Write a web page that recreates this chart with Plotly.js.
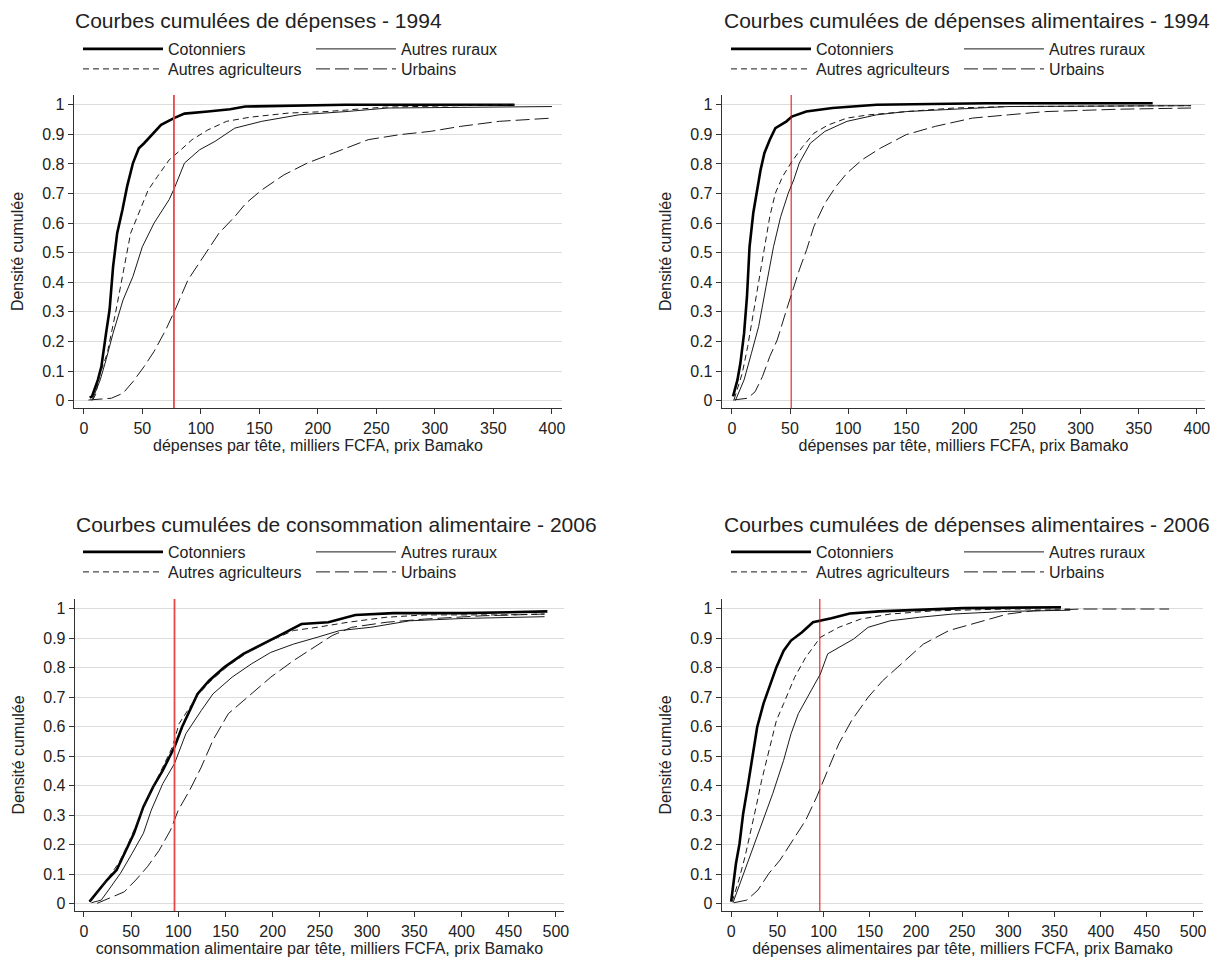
<!DOCTYPE html>
<html>
<head>
<meta charset="utf-8">
<script src="https://cdn.plot.ly/plotly-3.0.1.min.js"></script>
<style>html,body{margin:0;padding:0;background:#fff;}#chart{width:1222px;height:960px;}</style>
</head>
<body>
<div id="chart"></div>
<script>
// ---------- Data ----------
const seriesNames = ["Cotonniers", "Autres ruraux", "Autres agriculteurs", "Urbains"];

const panelTitles = [
  "Courbes cumulées de dépenses - 1994",
  "Courbes cumulées de dépenses alimentaires - 1994",
  "Courbes cumulées de consommation alimentaire - 2006",
  "Courbes cumulées de dépenses alimentaires - 2006"
];
const xTitles = [
  "dépenses par tête, milliers FCFA, prix Bamako",
  "dépenses par tête, milliers FCFA, prix Bamako",
  "consommation alimentaire par tête, milliers FCFA, prix Bamako",
  "dépenses alimentaires par tête, milliers FCFA, prix Bamako"
];
const yTitle = "Densité cumulée";
const xTickVals12 = [0, 50, 100, 150, 200, 250, 300, 350, 400];
const xTickVals34 = [0, 50, 100, 150, 200, 250, 300, 350, 400, 450, 500];
const yTickVals = [0, 0.1, 0.2, 0.3, 0.4, 0.5, 0.6, 0.7, 0.8, 0.9, 1];
const yTickText = ["0", "0.1", "0.2", "0.3", "0.4", "0.5", "0.6", "0.7", "0.8", "0.9", "1"];
const refLines = [77, 51, 96, 96];

// Panel 1 : dépenses 1994
const p1_cot_x = [5, 7, 12, 15, 19, 22, 25, 28.5, 33, 37, 42, 47, 51.5, 58, 66, 77, 86, 106, 125, 138, 191, 224, 368];
const p1_cot_y = [0.01, 0.014, 0.07, 0.115, 0.228, 0.307, 0.453, 0.566, 0.645, 0.724, 0.803, 0.853, 0.870, 0.899, 0.932, 0.955, 0.970, 0.977, 0.985, 0.994, 0.997, 1.0, 1.0];
const p1_rur_x = [7, 14, 19, 25, 33.5, 42, 50, 60, 73, 78, 86, 99, 112, 129, 152, 184, 224, 260, 400];
const p1_rur_y = [0.0, 0.07, 0.138, 0.228, 0.34, 0.42, 0.52, 0.6, 0.68, 0.724, 0.803, 0.848, 0.876, 0.921, 0.944, 0.966, 0.977, 0.989, 0.994];
const p1_agr_x = [8, 10, 14, 20, 27, 33.5, 40, 47, 55, 63, 73, 83, 92.5, 106, 122, 142, 175, 207, 257, 322, 368];
const p1_agr_y = [0.005, 0.02, 0.092, 0.16, 0.295, 0.43, 0.566, 0.634, 0.712, 0.758, 0.814, 0.848, 0.882, 0.915, 0.944, 0.958, 0.972, 0.977, 0.992, 0.997, 1.0];
const p1_urb_x = [4, 23.5, 33.5, 42, 51.5, 60, 70, 78, 89, 106, 115.5, 129, 138.5, 152, 171, 191, 217, 243, 270, 296, 322, 355, 400];
const p1_urb_y = [0.002, 0.008, 0.025, 0.064, 0.115, 0.166, 0.239, 0.307, 0.408, 0.51, 0.566, 0.622, 0.667, 0.712, 0.763, 0.803, 0.842, 0.882, 0.899, 0.91, 0.927, 0.944, 0.955];

// Panel 2 : dépenses alimentaires 1994
const p2_cot_x = [1, 4.8, 7.3, 10.5, 13, 15.2, 18.4, 21.5, 24.7, 28, 32.6, 37.4, 47, 51.6, 64, 86.5, 124.5, 219, 362];
const p2_cot_y = [0.014, 0.07, 0.126, 0.228, 0.352, 0.52, 0.634, 0.701, 0.78, 0.837, 0.882, 0.921, 0.944, 0.96, 0.977, 0.989, 1.0, 1.005, 1.005];
const p2_rur_x = [3, 10.5, 16.8, 23, 29.4, 35.8, 42, 48.5, 53.2, 58, 67.5, 80, 99, 124.5, 150, 191, 238, 395];
const p2_rur_y = [0.0, 0.07, 0.16, 0.25, 0.386, 0.52, 0.622, 0.701, 0.746, 0.803, 0.87, 0.91, 0.944, 0.966, 0.977, 0.985, 0.994, 0.997];
const p2_agr_x = [2, 8.9, 13.6, 18.4, 23, 28, 32.6, 37.4, 43.7, 51.6, 61, 70.6, 83, 99, 118, 150, 191, 238, 395];
const p2_agr_y = [0.005, 0.092, 0.183, 0.295, 0.408, 0.52, 0.622, 0.701, 0.758, 0.808, 0.859, 0.904, 0.932, 0.955, 0.966, 0.977, 0.989, 0.994, 0.997];
const p2_urb_x = [1, 13.6, 20, 26.3, 32.6, 39, 47, 51.6, 58, 64.3, 70.6, 80, 89.6, 99, 112, 127.6, 150, 175, 207, 238, 270, 333, 395];
const p2_urb_y = [0.002, 0.008, 0.03, 0.081, 0.149, 0.205, 0.307, 0.363, 0.442, 0.51, 0.589, 0.667, 0.724, 0.769, 0.814, 0.853, 0.899, 0.927, 0.955, 0.966, 0.977, 0.985, 0.989];

// Panel 3 : consommation alimentaire 2006
const p3_cot_x = [6, 14, 24.5, 34.7, 42.8, 53, 63, 73.4, 83.6, 96, 104, 112, 120.4, 132.6, 149, 169, 190, 210, 230.5, 259, 287.6, 328, 402, 491];
const p3_cot_y = [0.007, 0.04, 0.08, 0.114, 0.17, 0.238, 0.328, 0.396, 0.452, 0.531, 0.599, 0.655, 0.711, 0.756, 0.802, 0.847, 0.88, 0.914, 0.948, 0.954, 0.979, 0.985, 0.985, 0.991];
const p3_rur_x = [8, 18.4, 28.6, 38.8, 51, 63, 71.4, 83.6, 96, 108, 124.4, 136.7, 157, 177.5, 198, 222, 247, 271, 304, 345, 402, 488];
const p3_rur_y = [0.003, 0.012, 0.057, 0.103, 0.17, 0.238, 0.317, 0.407, 0.475, 0.576, 0.655, 0.711, 0.768, 0.813, 0.852, 0.88, 0.903, 0.926, 0.937, 0.959, 0.967, 0.973];
const p3_agr_x = [6, 16.3, 26.5, 36.7, 47, 59, 71.4, 83.6, 93.8, 100.8, 110, 120.4, 134.6, 153, 173.5, 198, 222, 247, 279.5, 320, 361, 443, 488];
const p3_agr_y = [0.007, 0.046, 0.091, 0.136, 0.204, 0.294, 0.384, 0.463, 0.531, 0.61, 0.655, 0.706, 0.756, 0.807, 0.852, 0.892, 0.926, 0.937, 0.954, 0.971, 0.979, 0.979, 0.982];
const p3_urb_x = [14, 26.5, 42.8, 55, 67.3, 79.6, 91.8, 100, 112, 124.4, 136.7, 153, 173.5, 198, 222, 243, 263, 283.6, 320, 361, 422, 488];
const p3_urb_y = [0.001, 0.018, 0.04, 0.08, 0.125, 0.18, 0.249, 0.317, 0.384, 0.463, 0.554, 0.644, 0.7, 0.768, 0.824, 0.869, 0.909, 0.937, 0.954, 0.965, 0.976, 0.982];

// Panel 4 : dépenses alimentaires 2006
const p4_cot_x = [0, 2, 5.2, 9.1, 13, 17.9, 23, 28.2, 35, 41, 49, 56.8, 64.8, 76.7, 88.6, 108.5, 128.4, 160, 251.6, 357];
const p4_cot_y = [0.007, 0.057, 0.136, 0.204, 0.305, 0.396, 0.497, 0.599, 0.678, 0.734, 0.802, 0.858, 0.892, 0.92, 0.954, 0.968, 0.984, 0.991, 1.002, 1.005];
const p4_rur_x = [2, 11, 21, 33, 45, 56.8, 64.8, 72.7, 84.7, 96.6, 104.5, 116.5, 132.4, 148.3, 172, 204, 240, 299, 367];
const p4_rur_y = [0.003, 0.08, 0.17, 0.272, 0.373, 0.486, 0.576, 0.644, 0.711, 0.779, 0.847, 0.869, 0.897, 0.937, 0.959, 0.971, 0.982, 0.991, 0.995];
const p4_agr_x = [1.2, 8.3, 15, 21, 27, 33, 41, 49, 56.8, 68.8, 80.7, 96.6, 116.5, 140.3, 172, 220, 299, 367];
const p4_agr_y = [0.007, 0.08, 0.159, 0.238, 0.328, 0.418, 0.52, 0.621, 0.678, 0.768, 0.835, 0.903, 0.937, 0.965, 0.982, 0.993, 0.999, 0.999];
const p4_urb_x = [3, 17, 29, 41, 53, 64.8, 80.7, 92.6, 104.5, 116.5, 130.4, 148.3, 164, 184, 208, 235.7, 267.5, 299, 327, 379, 474];
const p4_urb_y = [0.003, 0.012, 0.046, 0.103, 0.148, 0.204, 0.283, 0.362, 0.452, 0.542, 0.621, 0.7, 0.756, 0.813, 0.88, 0.926, 0.954, 0.982, 0.993, 0.999, 0.999];

const panels = [
  [[p1_cot_x, p1_cot_y], [p1_rur_x, p1_rur_y], [p1_agr_x, p1_agr_y], [p1_urb_x, p1_urb_y]],
  [[p2_cot_x, p2_cot_y], [p2_rur_x, p2_rur_y], [p2_agr_x, p2_agr_y], [p2_urb_x, p2_urb_y]],
  [[p3_cot_x, p3_cot_y], [p3_rur_x, p3_rur_y], [p3_agr_x, p3_agr_y], [p3_urb_x, p3_urb_y]],
  [[p4_cot_x, p4_cot_y], [p4_rur_x, p4_rur_y], [p4_agr_x, p4_agr_y], [p4_urb_x, p4_urb_y]]
];

// ---------- Styles / layout ----------
const W = 1222, H = 960;
const FONT = "Liberation Sans, Arial, sans-serif";
const lineStyles = [
  {color: "#000000", width: 2.6, dash: "solid"},
  {color: "#1a1a1a", width: 1, dash: "solid"},
  {color: "#1a1a1a", width: 1, dash: "6px,4px"},
  {color: "#1a1a1a", width: 1, dash: "14px,5px"}
];
// pixel boxes of each plot area: [left, right, top, bottom]
const boxes = [[74, 562, 95, 408], [722, 1205, 95, 408], [75, 564, 599, 911], [722, 1203, 599, 911]];
const xRanges = [[-8.4, 408.6], [-8.5, 407], [-9.4, 508.6], [-9.9, 510.7]];
const yRange = [-0.025, 1.033];
const titleY = [21, 21, 524, 524];
const titleX = [73, 722, 74, 722];
const legRowY = [[49, 69], [49, 69], [552, 572], [552, 572]];
const legX = [78, 726, 78, 726];
const refColors = ["#e8474a", "#e00000", "#e8474a", "#e00000"];
const refWidths = [1.8, 1, 1.8, 1];

const data = [];
const layout = {
  width: W, height: H,
  margin: {l: 0, r: 0, t: 0, b: 0},
  paper_bgcolor: "#ffffff", plot_bgcolor: "#ffffff",
  font: {family: FONT, color: "#222222", size: 16},
  showlegend: true,
  annotations: [], shapes: []
};

panels.forEach((series, p) => {
  const n = p + 1;
  const xa = "xaxis" + (n === 1 ? "" : n), ya = "yaxis" + (n === 1 ? "" : n);
  const xr = "x" + (n === 1 ? "" : n), yr = "y" + (n === 1 ? "" : n);
  const b = boxes[p];
  const legA = "legend" + (2 * p === 0 ? "" : 2 * p + 1);
  const legB = "legend" + (2 * p + 2);
  series.forEach((s, k) => {
    data.push({
      type: "scatter", mode: "lines",
      x: s[0], y: s[1],
      xaxis: xr, yaxis: yr,
      name: seriesNames[k],
      legend: (k < 2) ? legA : legB,
      line: {color: lineStyles[k].color, width: lineStyles[k].width, dash: lineStyles[k].dash},
      hoverinfo: "skip"
    });
  });
  [legA, legB].forEach((lg, r) => {
    layout[lg] = {
      orientation: "h",
      x: legX[p] / W, xanchor: "left",
      y: 1 - legRowY[p][r] / H, yanchor: "middle",
      itemwidth: 80, entrywidth: 138, entrywidthmode: "pixels",
      font: {family: FONT, size: 16, color: "#222"},
      bgcolor: "rgba(0,0,0,0)", borderwidth: 0,
      itemclick: false, itemdoubleclick: false,
      tracegroupgap: 0
    };
  });
  layout[xa] = {
    domain: [b[0] / W, b[1] / W],
    range: xRanges[p], anchor: yr,
    tickmode: "array", tickvals: (p < 2 ? xTickVals12 : xTickVals34),
    ticks: "outside", ticklen: 5, tickwidth: 1, tickcolor: "#333",
    showline: true, linecolor: "#333", linewidth: 1.3,
    showgrid: false, zeroline: false,
    tickfont: {family: FONT, size: 16, color: "#222"},
    title: {text: xTitles[p], font: {family: FONT, size: 16, color: "#222"}, standoff: 4}
  };
  layout[ya] = {
    domain: [1 - b[3] / H, 1 - b[2] / H],
    range: yRange, anchor: xr,
    tickmode: "array", tickvals: yTickVals, ticktext: yTickText,
    ticks: "outside", ticklen: 5, tickwidth: 1, tickcolor: "#333",
    showline: true, linecolor: "#333", linewidth: 1.3,
    showgrid: true, gridcolor: "#dcdcdc", gridwidth: 1, zeroline: false,
    tickfont: {family: FONT, size: 16, color: "#222"},
    title: {text: yTitle, font: {family: FONT, size: 16, color: "#222"}, standoff: 14}
  };
  layout.shapes.push({
    type: "line", xref: xr, yref: yr + " domain",
    x0: refLines[p], x1: refLines[p], y0: 0, y1: 1,
    line: {color: refColors[p], width: refWidths[p]}
  });
  layout.annotations.push({
    text: panelTitles[p], xref: "paper", yref: "paper",
    x: titleX[p] / W, y: 1 - titleY[p] / H, xanchor: "left", yanchor: "middle",
    showarrow: false, font: {family: FONT, size: 21, color: "#222"}
  });
});

Plotly.newPlot("chart", data, layout, {displayModeBar: false, staticPlot: true});
</script>
</body>
</html>
